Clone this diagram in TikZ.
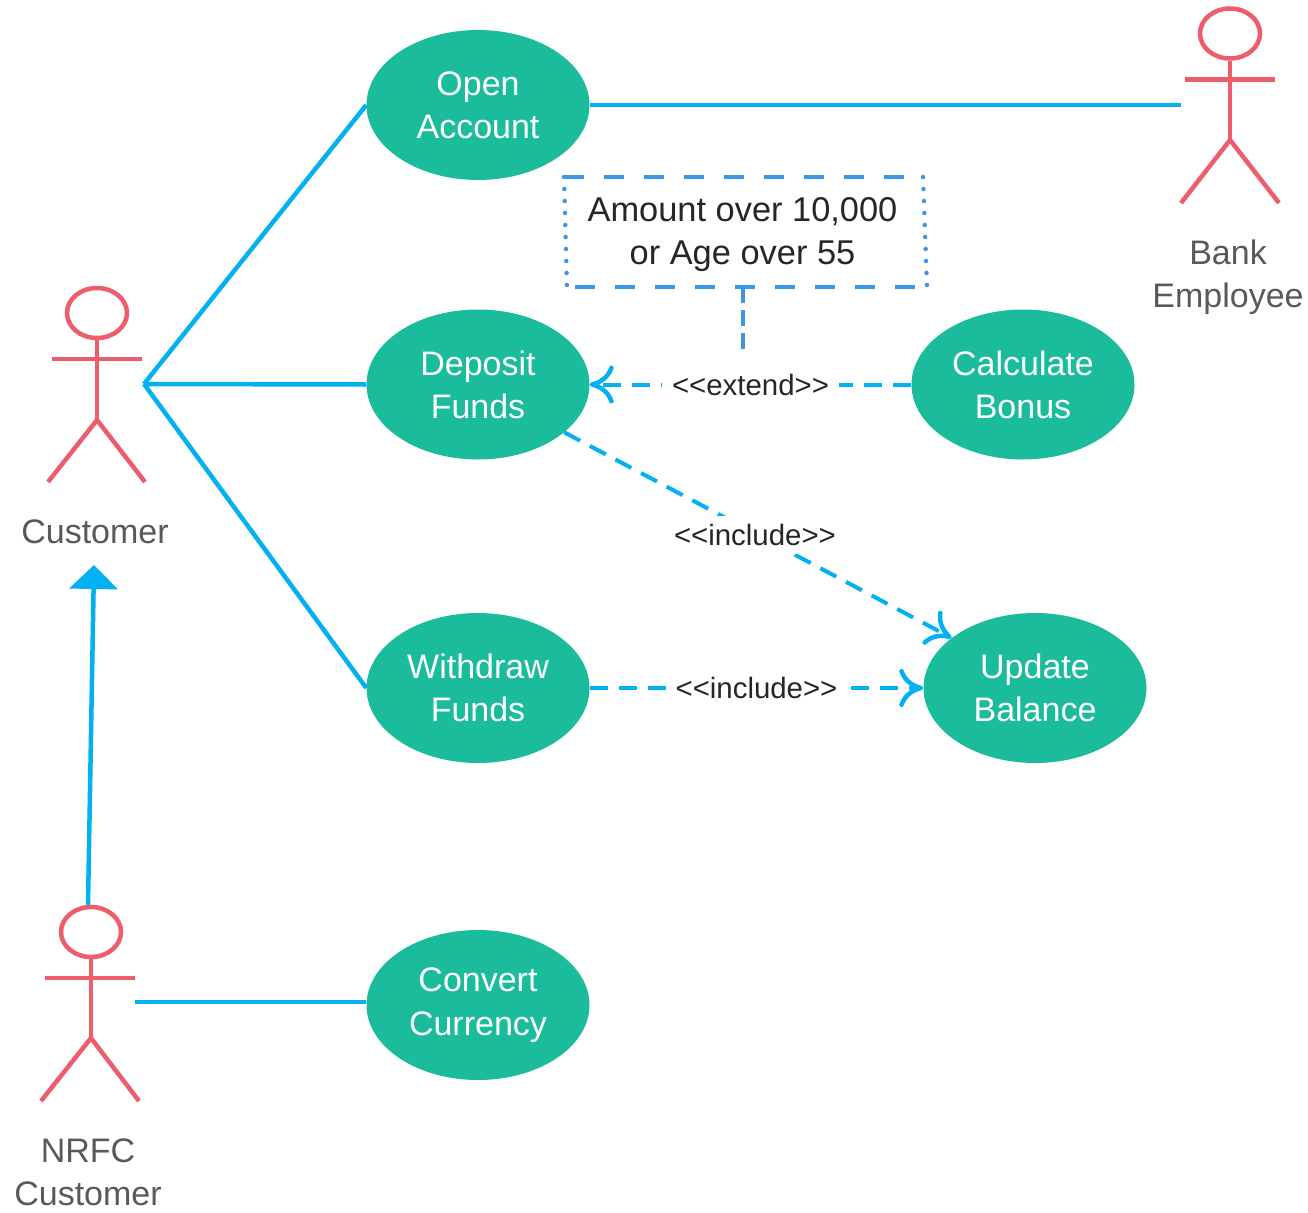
\documentclass[tikz,border=0pt]{standalone}
\usepackage{fontspec}
\setmainfont{Liberation Sans}
\usetikzlibrary{arrows.meta,shapes.geometric,calc}
\definecolor{teal1}{HTML}{1ABC9C}
\definecolor{actorred}{HTML}{EE5D6C}
\definecolor{linkblue}{HTML}{03B0F1}
\definecolor{noteblue}{HTML}{3C96E4}
\definecolor{greytext}{HTML}{595959}
\definecolor{darktext}{HTML}{262626}
\tikzset{
  x=1pt,y=-1pt,
  usecase/.style={ellipse,fill=teal1,minimum width=223pt,minimum height=150pt,inner sep=0pt,text=white,align=center,font=\fontsize{34}{43.3}\selectfont},
  head/.style={ellipse,draw=actorred,line width=4.5pt,minimum width=60pt,minimum height=50pt,inner sep=0pt},
  limb/.style={draw=actorred,line width=4.5pt},
  actorlabel/.style={align=center,text=greytext,inner sep=0pt,font=\fontsize{34}{43.3}\selectfont},
  assoc/.style={draw=linkblue,line width=4.5pt},
  gen/.style={draw=linkblue,line width=4.5pt,-{Triangle[length=24pt 0 0,width=48pt 0 0]}},
  dep/.style={draw=linkblue,line width=4pt,dash pattern=on 18pt off 11pt,-{Computer Modern Rightarrow[length=24pt 0 0,width=38pt 0 0,line width=4.5pt]}},
  deplabel/.style={fill=white,text=darktext,inner xsep=10pt,inner ysep=8pt,font=\fontsize{29.4}{32}\selectfont},
  notetext/.style={align=center,text=darktext,inner sep=0pt,font=\fontsize{34.4}{43.3}\selectfont},
  notedash/.style={draw=noteblue,line width=4pt,dash pattern=on 20pt off 20pt},
  notedot/.style={draw=noteblue,line width=4.5pt,line cap=round,dash pattern=on 0pt off 12pt},
  notelink/.style={draw=noteblue,line width=4pt,dash pattern=on 16pt off 7pt},
}
\begin{document}
\begin{tikzpicture}
\useasboundingbox (0,0) rectangle (1308,1212);
% use cases
\node[usecase] (open) at (478,105) {Open\\Account};
\node[usecase] (deposit) at (478,384.5) {Deposit\\Funds};
\node[usecase] (withdraw) at (478,688) {Withdraw\\Funds};
\node[usecase] (convert) at (478,1005) {Convert\\Currency};
\node[usecase] (calc) at (1023,384.5) {Calculate\\Bonus};
\node[usecase] (update) at (1035,688) {Update\\Balance};
% actor: customer
\node[head] (chead) at (97,313) {};
\coordinate (chip) at (97,420);
\coordinate (carmL) at (52,359);
\coordinate (carmR) at (142,359);
\coordinate (clegL) at (48,482);
\coordinate (clegR) at (145,482);
\coordinate (chand) at (144,384);
\draw[limb] (chead.south) -- (chip);
\draw[limb] (carmL) -- (carmR);
\draw[limb] (clegL) -- (chip) -- (clegR);
\node[actorlabel] (clabel) at (95,532) {Customer};
% actor: bank employee
\node[head] (bhead) at (1230,33.5) {};
\coordinate (bhip) at (1230,140);
\coordinate (barmL) at (1185,79.5);
\coordinate (barmR) at (1275,79.5);
\coordinate (blegL) at (1181,203);
\coordinate (blegR) at (1279,203);
\coordinate (bhand) at (1181,105);
\draw[limb] (bhead.south) -- (bhip);
\draw[limb] (barmL) -- (barmR);
\draw[limb] (blegL) -- (bhip) -- (blegR);
\node[actorlabel] (blabel) at (1228,277) {Bank\\Employee};
% actor: NRFC customer
\node[head] (nhead) at (91,932) {};
\coordinate (nhip) at (91,1038);
\coordinate (narmL) at (45,978);
\coordinate (narmR) at (135,978);
\coordinate (nlegL) at (41,1101);
\coordinate (nlegR) at (139,1101);
\coordinate (nhand) at (135,1002);
\coordinate (gentip) at (94,565);
\draw[limb] (nhead.south) -- (nhip);
\draw[limb] (narmL) -- (narmR);
\draw[limb] (nlegL) -- (nhip) -- (nlegR);
\node[actorlabel] (nlabel) at (88,1172.5) {NRFC\\Customer};
% associations
\draw[assoc] (chand) -- (open.west);
\draw[assoc] (chand) -- (deposit.west);
\draw[assoc] (chand) -- (withdraw.west);
\draw[assoc] (open.east) -- (bhand);
\draw[assoc] (nhand) -- (nhand -| convert.west);
\draw[gen] ($(nhead.north)+(-3,0)$) -- (gentip);
% dependencies
\draw[dep] (calc.west) -- node[deplabel] (extlabel) {{<}{<}extend{>}{>}} (deposit.east);
\draw[dep] (deposit.-29) -- node[deplabel,xshift=-3pt] (inclabelA) {{<}{<}include{>}{>}} (update.149);
\draw[dep] (withdraw.east) -- node[deplabel] (inclabelB) {{<}{<}include{>}{>}} (update.west);
% note
\node[notetext] (note) at (742.5,234.5) {Amount over 10,000\\or Age over 55};
\coordinate (ntl) at (564,177);
\coordinate (ntr) at (923,177);
\coordinate (nbl) at (567,287);
\coordinate (nbr) at (927,287);
\coordinate (nbm) at (743,287);
\coordinate (nlinkend) at (743,350);
\draw[notedash] (ntl) -- (ntr);
\draw[notedash] ($(nbl)+(8,0)$) -- (nbr);
\draw[notedot] (ntl) -- (nbl);
\draw[notedot] (ntr) -- (nbr);
\draw[notelink] (nbm) -- (nlinkend);
\end{tikzpicture}
\end{document}
